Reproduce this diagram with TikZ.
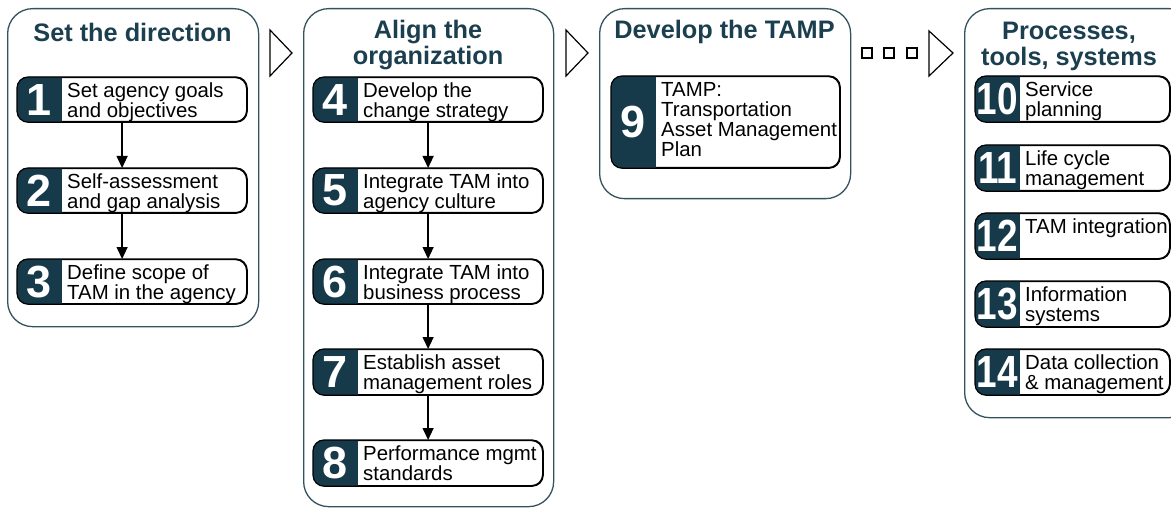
\documentclass[tikz,border=0pt]{standalone}
\usepackage{graphicx}
\usepackage{fontspec}
\setmainfont{Liberation Sans}
\usetikzlibrary{arrows.meta}
\definecolor{tamdark}{HTML}{163A4A}
\definecolor{tamline}{HTML}{34525E}
\definecolor{tamtitle}{HTML}{1B3F4F}

\tikzset{
  phase/.style={draw=tamline, line width=1.3pt, rounded corners=25pt, inner sep=0pt, anchor=north west},
  phasetitle/.style={font=\bfseries\fontsize{25.3}{26}\selectfont, text=tamtitle, align=center, inner sep=0pt, anchor=north},
  stepbox/.style={draw, line width=1.2pt, rounded corners=11pt, fill=white, inner sep=0pt, anchor=north west},
  steptext/.style={font=\fontsize{20.4}{20}\selectfont, align=left, inner sep=0pt, anchor=north west},
  stepnum/.style={font=\bfseries\fontsize{45}{45}\selectfont, text=white, inner sep=0pt},
  flow/.style={-{Triangle[length=12pt,width=11pt]}, line width=1.3pt},
  chevron/.style={draw, line width=1.2pt, fill=white},
  dotbox/.style={draw, line width=1.2pt, minimum size=10pt, inner sep=0pt},
}

% name, x, y, width, height, number, text
\newcommand{\tamstep}[7]{%
  \node[stepbox, minimum width=#4pt, minimum height=#5pt] (#1) at (#2,#3) {};
  \begin{scope}
    \clip[rounded corners=11pt] (#1.south west) rectangle (#1.north east);
    \fill[tamdark] (#1.south west) rectangle ([xshift=45pt]#1.north west);
  \end{scope}
  \draw[line width=1.2pt, rounded corners=11pt] (#1.south west) rectangle (#1.north east);
  \node[stepnum] (#1num) at ([xshift=22.5pt]#1.west) {#6};
  \node[steptext] (#1txt) at ([xshift=50pt,yshift=-6pt]#1.north west) {#7};
}
\newcommand{\twodigit}[1]{\scalebox{0.82}[1]{#1}}

\begin{document}
\begin{tikzpicture}[x=1pt, y=-1pt]
\clip (0,0) rectangle (1171,508);
\useasboundingbox (0,0) rectangle (1171,508);

% phases
\node[phase, minimum width=251pt, minimum height=318pt] (direction) at (7,8) {};
\node[phase, minimum width=250pt, minimum height=498pt] (align) at (303,8) {};
\node[phase, minimum width=251pt, minimum height=190pt] (develop) at (599,8) {};
\node[phase, minimum width=230pt, minimum height=409pt] (processes) at (964,8) {};

\node[phasetitle] (directiontitle) at (132.5,23) {Set the direction};
\node[phasetitle] (aligntitle) at (428,20) {Align the\\organization};
\node[phasetitle] (developtitle) at (724.5,20) {Develop the TAMP};
\node[phasetitle] (processestitle) at (1069,22) {Processes,\\tools, systems};

% set the direction
\tamstep{s1}{17}{77}{229}{44}{1}{Set agency goals\\and objectives}
\tamstep{s2}{17}{168}{229}{44}{2}{Self-assessment\\and gap analysis}
\tamstep{s3}{17}{259}{229}{44}{3}{Define scope of\\TAM in the agency}
\draw[flow] ([xshift=-10pt]s1.south) -- ([xshift=-10pt]s2.north);
\draw[flow] ([xshift=-10pt]s2.south) -- ([xshift=-10pt]s3.north);

% align the organization
\tamstep{s4}{313}{77}{229}{44}{4}{Develop the\\change strategy}
\tamstep{s5}{313}{168}{229}{44}{5}{Integrate TAM into\\agency culture}
\tamstep{s6}{313}{259}{229}{44}{6}{Integrate TAM into\\business process}
\tamstep{s7}{313}{349}{229}{45}{7}{Establish asset\\management roles}
\tamstep{s8}{313}{440}{229}{45}{8}{Performance mgmt\\standards}
\foreach \a/\b in {s4/s5, s5/s6, s6/s7, s7/s8}
  \draw[flow] (\a.south) -- (\b.north);

% develop the TAMP
\tamstep{s9}{611}{76}{228}{91}{9}{TAMP:\\Transportation\\Asset Management\\Plan}

% processes, tools, systems
\tamstep{s10}{975}{76}{194}{45}{\twodigit{10}}{Service\\planning}
\tamstep{s11}{975}{145}{194}{45}{\twodigit{11}}{Life cycle\\management}
\tamstep{s12}{975}{213}{194}{45}{\twodigit{12}}{TAM integration}
\tamstep{s13}{975}{281}{194}{45}{\twodigit{13}}{Information\\systems}
\tamstep{s14}{975}{349}{194}{45}{\twodigit{14}}{Data collection\\\& management}

% chevrons between phases
\draw[chevron] (270,30) -- (292,53) -- (270,76) -- cycle;
\draw[chevron] (566,30) -- (588,53) -- (566,76) -- cycle;
\draw[chevron] (929,31) -- (953,53) -- (929,76) -- cycle;
\foreach \i/\x in {1/867, 2/889, 3/912}
  \node[dotbox] (dot\i) at (\x,53) {};
\end{tikzpicture}
\end{document}
